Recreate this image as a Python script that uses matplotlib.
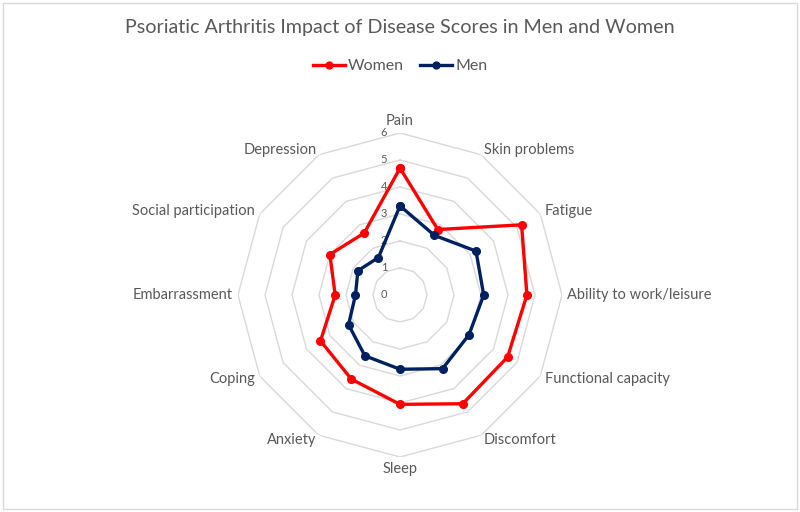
import numpy as np
import matplotlib
matplotlib.use("Agg")
import matplotlib.pyplot as plt
from matplotlib.patches import Rectangle
import matplotlib.transforms as mtransforms

categories = ["Pain", "Skin problems", "Fatigue", "Ability to work/leisure",
              "Functional capacity", "Discomfort", "Sleep", "Anxiety",
              "Coping", "Embarrassment", "Social participation", "Depression"]
women = [4.7, 2.8, 5.2, 4.7, 4.6, 4.65, 4.05, 3.6, 3.4, 2.4, 3.0, 2.65]
men = [3.3, 2.55, 3.25, 3.1, 2.95, 3.15, 2.75, 2.6, 2.2, 1.65, 1.8, 1.6]
ticks = [0, 1, 2, 3, 4, 5, 6]

plt.rcParams['font.family'] = ['Lato', 'DejaVu Sans']
grey_txt = '#595959'
grid_col = '#d9d9d9'

fig = plt.figure(figsize=(8, 5.12), dpi=100)
fig.patches.append(Rectangle((0.004, 0.006), 0.992, 0.988, transform=fig.transFigure,
                             fill=False, edgecolor=grid_col, lw=1))

# center (400, 295) px, radius 162 px
cx, cy, rad = 400 / 800, 1 - 295 / 512, 162
ax = fig.add_axes([cx - rad / 800, cy - rad / 512, 2 * rad / 800, 2 * rad / 512],
                  projection='polar')
ax.set_theta_zero_location('N')
ax.set_theta_direction(-1)
ax.set_ylim(0, 6)
ax.set_xticks([])
ax.set_yticks([])
ax.grid(False)
ax.spines['polar'].set_visible(False)
ax.patch.set_alpha(0)

n = len(categories)
ang = np.linspace(0, 2 * np.pi, n, endpoint=False)
ang_c = np.append(ang, ang[0])

# polygon grid, no spokes
for t in ticks[1:]:
    ax.plot(ang_c, [t] * (n + 1), color=grid_col, lw=1, zorder=1)

# tick numbers left of the top spoke
off = mtransforms.offset_copy(ax.transData, fig=fig, x=-11.5, y=0.5, units='points')
for t in ticks:
    ax.text(0, t, str(t), transform=off, ha='center', va='center',
            fontsize=8, color=grey_txt)

ax.plot(ang_c, women + women[:1], color='#ff0000', lw=2.4, marker='o', ms=5.5,
        label='Women', zorder=3)
ax.plot(ang_c, men + men[:1], color='#002060', lw=2.4, marker='o', ms=5.5,
        label='Men', zorder=4)

# category labels
for a, lab in zip(ang, categories):
    s = np.sin(a)
    if abs(s) < 1e-6:
        ha = 'center'
        va = 'bottom' if np.cos(a) > 0 else 'top'
    else:
        ha = 'left' if s > 0 else 'right'
        va = 'center'
    ax.text(a, 6.2, lab, ha=ha, va=va, fontsize=10.5, color=grey_txt)

fig.text(0.5, 1 - 28 / 512, "Psoriatic Arthritis Impact of Disease Scores in Men and Women",
         ha='center', va='center', fontsize=14.2, color=grey_txt)
fig.legend(loc='center', bbox_to_anchor=(0.5, 1 - 66 / 512), ncol=2, frameon=False,
           fontsize=11.5, labelcolor=grey_txt, handlelength=2.0, handletextpad=0.2,
           columnspacing=1.0, markerscale=0.9)

fig.savefig("out.png", dpi=100)
